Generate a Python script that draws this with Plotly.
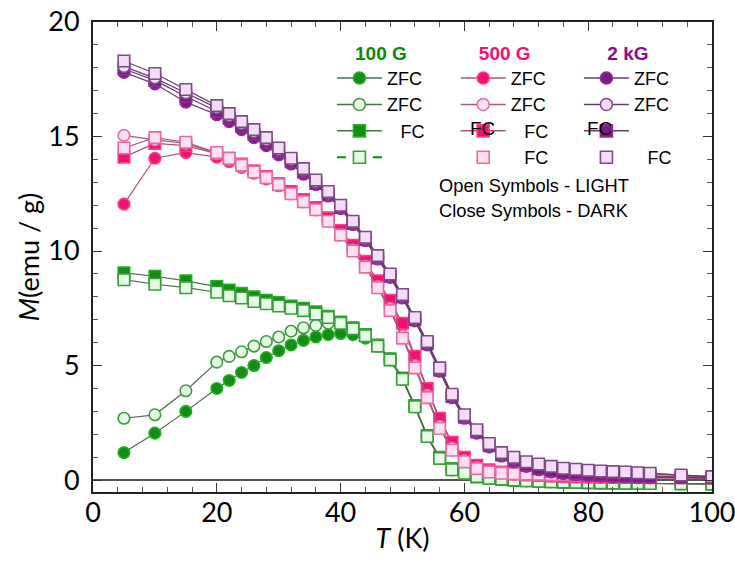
import plotly.graph_objects as go

# ---------------- data ----------------
T = [5, 10, 15, 20, 22, 24, 26, 28, 30, 32, 34, 36, 38, 40, 42, 44, 46, 48, 50, 52,
     54, 56, 58, 60, 62, 64, 66, 68, 70, 72, 74, 76, 78, 80, 82, 84, 86, 88, 90, 95, 100]

# 100 G
g_zfc_dark = [1.2, 2.05, 3.0, 4.0, 4.35, 4.7, 5.0, 5.35, 5.65, 5.9, 6.1, 6.25, 6.35, 6.4, 6.35, 6.2,
              5.85, 5.25, 4.4, 3.2, 1.9, 0.95, 0.45, 0.28, 0.15,
              0.08, 0.04, 0.0, -0.03, -0.05, -0.07, -0.09, -0.1, -0.11, -0.12, -0.13, -0.14, -0.14, -0.15, -0.16, -0.17]
g_zfc_light = [2.7, 2.85, 3.9, 5.15, 5.4, 5.6, 5.85, 6.05, 6.25, 6.5, 6.65, 6.75, 6.85, 6.85, 6.65, 6.35,
               5.9, 5.3, 4.4, 3.2, 1.9, 0.95, 0.45, 0.3, 0.15,
               0.08, 0.04, 0.0, -0.03, -0.05, -0.07, -0.09, -0.1, -0.11, -0.12, -0.13, -0.14, -0.14, -0.15, -0.16, -0.17]
g_fc_dark = [9.05, 8.9, 8.7, 8.45, 8.3, 8.15, 8.0, 7.85, 7.75, 7.6, 7.5, 7.35, 7.15, 6.9, 6.65, 6.35,
             5.9, 5.3, 4.45, 3.25, 1.95, 1.0, 0.5, 0.3, 0.15,
             0.08, 0.04, 0.0, -0.03, -0.05, -0.07, -0.09, -0.1, -0.11, -0.12, -0.13, -0.14, -0.14, -0.15, -0.16, -0.17]
g_fc_light = [8.75, 8.55, 8.4, 8.2, 8.05, 7.95, 7.8, 7.7, 7.6, 7.5, 7.4, 7.25, 7.1, 6.85, 6.6, 6.3,
              5.85, 5.25, 4.4, 3.2, 1.9, 0.95, 0.45, 0.3, 0.15,
              0.08, 0.04, 0.0, -0.03, -0.05, -0.07, -0.09, -0.1, -0.11, -0.12, -0.13, -0.14, -0.14, -0.15, -0.16, -0.17]

# 500 G
p_zfc_dark = [12.05, 14.05, 14.3, 14.1, 13.9, 13.65, 13.4, 13.15, 12.85, 12.5, 12.15, 11.8, 11.35, 10.8,
              10.15, 9.45, 8.6, 7.75, 6.75, 5.3, 3.95, 2.6, 1.6, 0.95, 0.6, 0.42, 0.32, 0.26, 0.22, 0.19,
              0.17, 0.15, 0.14, 0.13, 0.12, 0.11, 0.11, 0.1, 0.1, 0.09, 0.08]
p_zfc_light = [15.05, 14.85, 14.7, 14.25, 14.0, 13.7, 13.45, 13.2, 12.9, 12.5, 12.15, 11.8, 11.3, 10.7,
               10.05, 9.35, 8.45, 7.5, 6.3, 5.0, 3.7, 2.35, 1.4, 0.85, 0.55, 0.38, 0.32, 0.28, 0.26, 0.25,
               0.24, 0.23, 0.22, 0.21, 0.21, 0.2, 0.2, 0.19, 0.18, 0.16, 0.14]
p_fc_dark = [14.1, 14.7, 14.6, 14.25, 14.05, 13.8, 13.5, 13.25, 12.95, 12.6, 12.25, 11.9, 11.45, 10.9,
             10.25, 9.55, 8.7, 7.85, 6.85, 5.4, 4.0, 2.7, 1.65, 1.0, 0.65, 0.45, 0.35, 0.28, 0.24, 0.2,
             0.18, 0.16, 0.15, 0.14, 0.13, 0.12, 0.12, 0.11, 0.1, 0.1, 0.08]
p_fc_light = [14.5, 14.95, 14.75, 14.3, 14.05, 13.75, 13.45, 13.2, 12.9, 12.5, 12.15, 11.8, 11.3, 10.7,
              10.0, 9.3, 8.4, 7.4, 6.2, 4.9, 3.6, 2.25, 1.3, 0.8, 0.5, 0.35, 0.3, 0.27, 0.26, 0.25,
              0.24, 0.23, 0.22, 0.22, 0.21, 0.2, 0.2, 0.19, 0.18, 0.16, 0.14]

# 2 kG
u_zfc_dark = [17.8, 17.3, 16.5, 15.95, 15.65, 15.3, 14.95, 14.6, 14.2, 13.8, 13.35, 12.9, 12.4, 11.85,
              11.15, 10.45, 9.65, 8.85, 7.95, 6.95, 5.9, 4.75, 3.6, 2.7, 2.05, 1.45, 1.05, 0.8, 0.6, 0.45,
              0.35, 0.28, 0.23, 0.2, 0.17, 0.15, 0.14, 0.13, 0.12, 0.11, 0.1]
u_zfc_light = [18.05, 17.55, 16.9, 16.25, 15.9, 15.55, 15.2, 14.85, 14.42, 13.98, 13.52, 13.02, 12.52, 11.95,
               11.25, 10.55, 9.75, 8.95, 8.05, 7.05, 6.0, 4.85, 3.7, 2.8, 2.15, 1.55, 1.15, 0.95, 0.78, 0.68,
               0.58, 0.5, 0.45, 0.41, 0.38, 0.36, 0.34, 0.31, 0.29, 0.21, 0.15]
u_fc_dark = [17.95, 17.45, 16.75, 16.1, 15.8, 15.45, 15.1, 14.75, 14.35, 13.9, 13.45, 12.95, 12.45, 11.9,
             11.2, 10.5, 9.7, 8.9, 8.0, 7.0, 5.95, 4.8, 3.65, 2.75, 2.1, 1.5, 1.1, 0.85, 0.65, 0.5,
             0.4, 0.32, 0.27, 0.23, 0.2, 0.18, 0.16, 0.15, 0.14, 0.12, 0.1]
u_fc_light = [18.3, 17.75, 17.05, 16.35, 16.0, 15.65, 15.3, 14.95, 14.5, 14.05, 13.6, 13.1, 12.6, 12.0,
              11.3, 10.6, 9.8, 9.0, 8.1, 7.1, 6.05, 4.9, 3.75, 2.85, 2.2, 1.6, 1.2, 1.0, 0.8, 0.7,
              0.6, 0.52, 0.47, 0.43, 0.4, 0.37, 0.35, 0.32, 0.3, 0.22, 0.15]

field_labels = ["100 G", "500 G", "2 kG"]
header_colors = ["#0a8a0a", "#ff0a7a", "#8b0a8b"]

# style per field: (dark fill, dark edge, light fill, light edge, line colour)
styles = {
    "g": ("#138d13", "#22b022", "#e4fbe4", "#3f9a3f", "#4a6e4a"),
    "p": ("#f0126e", "#ff3a8a", "#fde0f2", "#e66aa4", "#b05478"),
    "u": ("#7d1a80", "#932c96", "#f6dcf8", "#7c4c84", "#6a3c70"),
}

series = [
    ("g", g_zfc_dark, "circle", True), ("g", g_fc_dark, "square", True),
    ("g", g_zfc_light, "circle", False), ("g", g_fc_light, "square", False),
    ("p", p_zfc_dark, "circle", True), ("p", p_fc_dark, "square", True),
    ("p", p_zfc_light, "circle", False), ("p", p_fc_light, "square", False),
    ("u", u_zfc_dark, "circle", True), ("u", u_fc_dark, "square", True),
    ("u", u_zfc_light, "circle", False), ("u", u_fc_light, "square", False),
]

fig = go.Figure()
for key, vals, sym, dark in series:
    dfill, dedge, lfill, ledge, lcol = styles[key]
    fig.add_trace(go.Scatter(
        x=T, y=vals, mode="lines+markers", showlegend=False,
        line=dict(color=lcol, width=1.2),
        marker=dict(symbol=sym, size=11.5,
                    color=dfill if dark else lfill,
                    line=dict(color=dedge if dark else ledge, width=1.6)),
    ))

# legend entries (legend-only traces)
pad = "\u00a0\u00a0\u2009"
legend_items = {
    "g": [("ZFC", "circle", True, "solid", "lines+markers"),
          ("ZFC", "circle", False, "solid", "lines+markers"),
          (pad + "FC", "square", True, "solid", "lines+markers"),
          (" ", "square", False, "dash", "lines+markers")],
    "p": [("ZFC", "circle", True, "solid", "lines+markers"),
          ("ZFC", "circle", False, "solid", "lines+markers"),
          (pad + "FC", "square", True, "solid", "lines+markers"),
          (pad + "FC", "square", False, "solid", "markers")],
    "u": [("ZFC", "circle", True, "solid", "lines+markers"),
          ("ZFC", "circle", False, "solid", "lines+markers"),
          (" ", "square", True, "solid", "lines+markers"),
          (pad + "FC", "square", False, "solid", "markers")],
}
leg_ids = {"g": "legend", "p": "legend2", "u": "legend3"}
for key, items in legend_items.items():
    dfill, dedge, lfill, ledge, lcol = styles[key]
    for name, sym, dark, dash, mode in items:
        lc = "#0a8a0a" if (key == "g" and dash == "dash") else lcol
        fig.add_trace(go.Scatter(
            x=[None], y=[None], mode=mode, name=name, legend=leg_ids[key],
            line=dict(color=lc, width=2.2 if dash == "dash" else 1.5, dash=dash),
            marker=dict(symbol=sym, size=12,
                        color=dfill if dark else lfill,
                        line=dict(color=dedge if dark else ledge, width=1.6)),
        ))

LEG_FONT = "Liberation Sans, Arial"
leg_common = dict(
    bgcolor="rgba(0,0,0,0)", borderwidth=0, xanchor="left", yanchor="top",
    itemwidth=45, font=dict(family=LEG_FONT, size=18, color="black"),
    tracegroupgap=0, itemclick=False,
)
fig.update_layout(
    legend=dict(x=0.386, y=0.972, title=dict(text="<b>100 G</b>", side="top center",
                font=dict(family=LEG_FONT, size=19, color=header_colors[0])), **leg_common),
    legend2=dict(x=0.586, y=0.972, title=dict(text="<b>500 G</b>", side="top center",
                 font=dict(family=LEG_FONT, size=19, color=header_colors[1])), **leg_common),
    legend3=dict(x=0.785, y=0.972, title=dict(text="<b>2 kG</b>", side="top center",
                 font=dict(family=LEG_FONT, size=19, color=header_colors[2])), **leg_common),
)

# stray "FC" labels drawn over the legend symbols in the original
for xp in (0.630, 0.819):
    fig.add_annotation(x=xp, y=0.774, xref="paper", yref="paper", xanchor="center", yanchor="middle",
                       text="FC", showarrow=False,
                       font=dict(family=LEG_FONT, size=19, color="black"))

fig.add_annotation(x=0.556, y=0.653, xref="paper", yref="paper", xanchor="left", yanchor="middle",
                   text="Open Symbols - LIGHT", showarrow=False,
                   font=dict(family=LEG_FONT, size=18.3, color="black"))
fig.add_annotation(x=0.556, y=0.600, xref="paper", yref="paper", xanchor="left", yanchor="middle",
                   text="Close Symbols - DARK", showarrow=False,
                   font=dict(family=LEG_FONT, size=18.3, color="black"))

axis_font = dict(family="Lato, Open Sans, sans-serif", size=27, color="black")
fig.update_xaxes(
    range=[0, 100], dtick=20, tick0=0, ticks="inside", ticklen=9, tickwidth=1.3, tickcolor="#333",
    minor=dict(dtick=4, ticks="inside", ticklen=5, tickcolor="#555", tickwidth=1),
    showline=True, linecolor="#222", linewidth=1.8, mirror="ticks", showgrid=False, zeroline=False,
    tickfont=axis_font, ticklabelstandoff=-4, automargin=False, ticklabeloverflow="allow",
    title=dict(text="<i>T</i> (K)", font=axis_font, standoff=2),
)
fig.update_yaxes(
    range=[-0.52, 20], dtick=5, tick0=0, ticks="inside", ticklen=9, tickwidth=1.3, tickcolor="#333",
    minor=dict(dtick=1, ticks="inside", ticklen=5, tickcolor="#555", tickwidth=1),
    showline=True, linecolor="#222", linewidth=1.8, mirror="ticks", showgrid=False,
    zeroline=True, zerolinecolor="#555", zerolinewidth=2,
    tickfont=axis_font, ticklabelstandoff=6, automargin=False, ticklabeloverflow="allow",
    title=dict(text="<i>M</i>(emu / g)", font=axis_font, standoff=1),
)
fig.update_layout(
    width=735, height=565, plot_bgcolor="white", paper_bgcolor="white",
    margin=dict(l=93, r=23, t=22, b=73),
)
fig.write_html("out.html", config={"displayModeBar": False},
               post_script="document.body.style.margin='0px';")
